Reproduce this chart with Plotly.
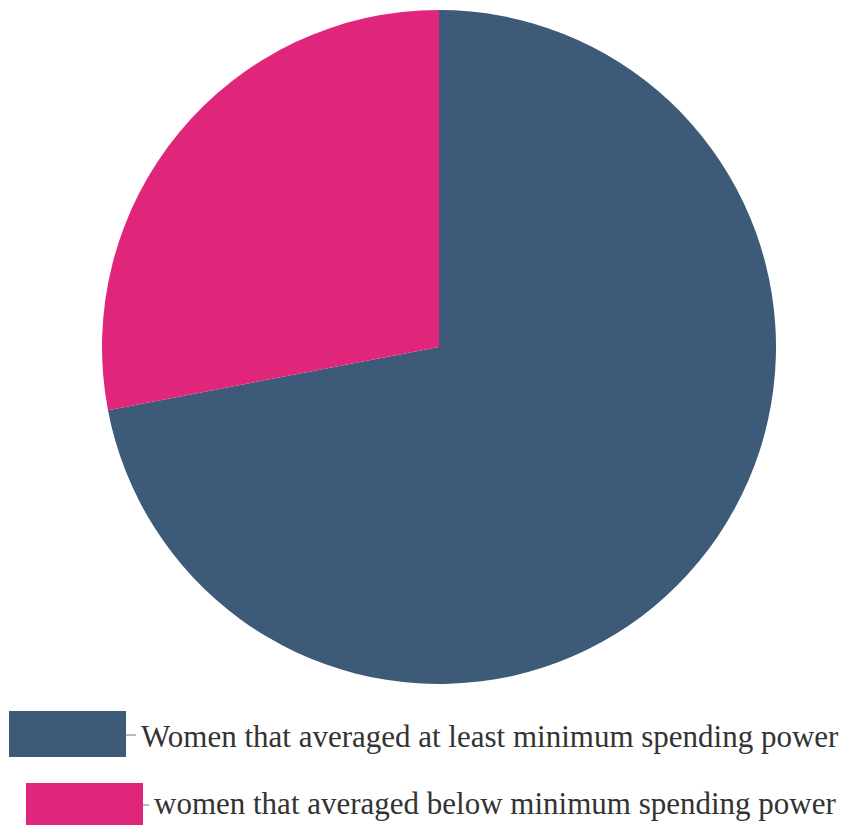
import plotly.graph_objects as go

labels = ["Women that averaged at least minimum spending power",
          "women that averaged below minimum spending power"]
values = [72, 28]
colors = ["#3d5a78", "#e0267b"]

# page has an 8px body margin; work in page pixel coordinates
OFF = 8
W, H = 863 - OFF, 825 - OFF


def px(x):
    return (x - OFF) / W


def py(y):
    return 1 - (y - OFF) / H


fig = go.Figure(go.Pie(
    labels=labels, values=values, sort=False, direction="clockwise",
    rotation=0, textinfo="none", hoverinfo="label+percent",
    marker=dict(colors=colors, line=dict(width=0)),
    domain=dict(x=[px(102), px(776)], y=[py(684), py(10)]),
    showlegend=False,
))

# custom legend (rectangles, connector dashes, labels) in page pixel coords
rects = [(9, 126, 711, 757), (26, 143, 783, 825)]
text_x = [139, 152]
text_y = [736, 803]
dash_y = [735, 805]
for i, lab in enumerate(labels):
    x0, x1, y0, y1 = rects[i]
    fig.add_shape(type="rect", xref="paper", yref="paper",
                  x0=px(x0), x1=px(x1), y0=py(y0), y1=py(y1),
                  fillcolor=colors[i], line=dict(width=0))
    fig.add_shape(type="line", xref="paper", yref="paper",
                  x0=px(x1), x1=px(text_x[i] - 3), y0=py(dash_y[i]), y1=py(dash_y[i]),
                  line=dict(color="#777777", width=1))
    fig.add_annotation(text=lab, xref="paper", yref="paper",
                       x=px(text_x[i]), y=py(text_y[i]), xanchor="left", yanchor="middle",
                       showarrow=False,
                       font=dict(family="Liberation Serif", size=31, color="#333333"))

fig.update_layout(width=W, height=H, margin=dict(l=0, r=0, t=0, b=0),
                  paper_bgcolor="white", plot_bgcolor="white")
fig.write_html("out.html")
